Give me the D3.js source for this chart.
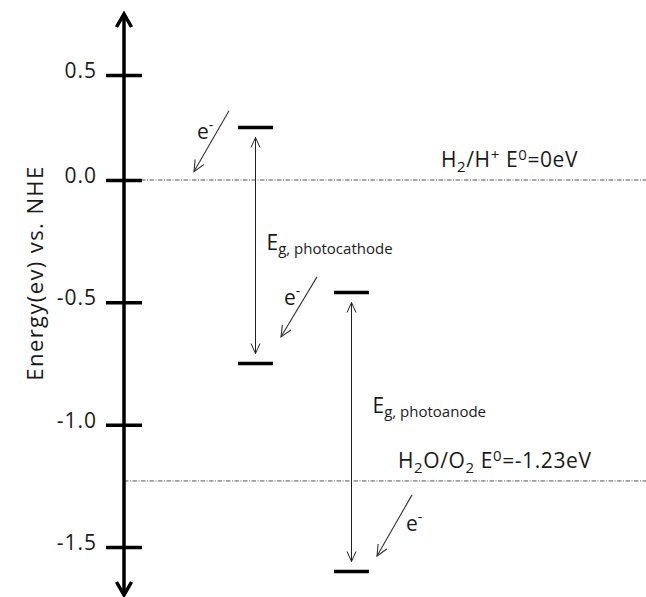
<!DOCTYPE html>
<html>
<head>
<meta charset="utf-8">
<script src="https://cdn.jsdelivr.net/npm/d3@7"></script>
<style>
  html, body { margin: 0; padding: 0; background: #fff; }
  svg { display: block; }
  text { font-family: "Open Sans", "Noto Sans", sans-serif; fill: #1a1a1a; }
</style>
</head>
<body>
<svg id="chart" width="646" height="597"></svg>
<script>
// Energy axis (eV vs. NHE)
const energyTicks = [0.5, 0.0, -0.5, -1.0, -1.5];
const tickLabels = ["0.5", "0.0", "-0.5", "-1.0", "-1.5"];

// Semiconductor electrodes and their band edges (eV)
const electrodes = ["photocathode", "photoanode"];
const conductionBand = [0.25, -0.46];
const valenceBand = [-0.75, -1.6];

// Redox reference potentials (eV)
const redoxCouples = ["H2/H+", "H2O/O2"];
const redoxPotentials = [0, -1.23];

// Electron transfer arrows: electrode, start and end energy (eV)
const electronBand = ["photocathode", "photoanode", "photoanode"];
const electronFrom = [0.33, -0.396, -1.287];
const electronTo = [0.04, -0.641, -1.537];

const svg = d3.select("#chart");
const W = 646, H = 597;

// Layout
const axisX = 124;
const y = d3.scaleLinear().domain([0.5, 0, -1.5]).range([75, 180, 547]);
const x = d3.scalePoint().domain(electrodes).range([255.5, 351.5]);
const barHalf = 17.5;

// Open chevron arrowhead
function chevron(g, tipX, tipY, dirX, dirY, len, half, width, color) {
  const n = Math.hypot(dirX, dirY);
  const ux = dirX / n, uy = dirY / n;
  const px = -uy, py = ux;
  const bx = tipX - ux * len, by = tipY - uy * len;
  g.append("path")
    .attr("d", `M${bx + px * half},${by + py * half}L${tipX},${tipY}L${bx - px * half},${by - py * half}`)
    .attr("fill", "none")
    .attr("stroke", color)
    .attr("stroke-width", width)
    .attr("stroke-linejoin", "miter")
    .attr("stroke-linecap", "butt");
}

// Redox reference lines (dash-dot)
svg.append("g").selectAll("line")
  .data(redoxPotentials)
  .join("line")
  .attr("x1", axisX).attr("x2", W)
  .attr("y1", d => y(d)).attr("y2", d => y(d))
  .attr("stroke", "#555")
  .attr("stroke-width", 1)
  .attr("stroke-dasharray", "4.5,1.5,1,1.5");

// Redox labels
const redoxLabelX = [441, 398];
const redoxText = svg.append("g").selectAll("text")
  .data(redoxPotentials)
  .join("text")
  .attr("x", (d, i) => redoxLabelX[i])
  .attr("y", d => y(d) - 13)
  .attr("font-size", 21)
  .attr("letter-spacing", 0.6);
// H2/H+ E0=0eV
{
  const t = d3.select(redoxText.nodes()[0]);
  t.append("tspan").text("H");
  t.append("tspan").attr("font-size", 15).attr("dy", 5).text("2");
  t.append("tspan").attr("dy", -5).text("/H");
  t.append("tspan").attr("font-size", 15).attr("dy", -7).text("+");
  t.append("tspan").attr("dy", 7).text(" E");
  t.append("tspan").attr("font-size", 15).attr("dy", -7).text("0");
  t.append("tspan").attr("dy", 7).text("=" + redoxPotentials[0] + "eV");
}
// H2O/O2 E0=-1.23eV
{
  const t = d3.select(redoxText.nodes()[1]);
  t.append("tspan").text("H");
  t.append("tspan").attr("font-size", 15).attr("dy", 5).text("2");
  t.append("tspan").attr("dy", -5).text("O/O");
  t.append("tspan").attr("font-size", 15).attr("dy", 5).text("2");
  t.append("tspan").attr("dy", -5).text(" E");
  t.append("tspan").attr("font-size", 15).attr("dy", -7).text("0");
  t.append("tspan").attr("dy", 7).text("=" + redoxPotentials[1] + "eV");
}

// Tick marks and labels (ticks cross the axis line)
const axis = d3.axisLeft(y)
  .tickValues(energyTicks)
  .tickFormat((d, i) => tickLabels[i])
  .tickSizeInner(36)
  .tickSizeOuter(0)
  .tickPadding(9);
const axisG = svg.append("g")
  .attr("transform", `translate(${axisX + 18},0)`)
  .call(axis);
axisG.select(".domain").remove();
axisG.selectAll(".tick line").attr("stroke", "#000").attr("stroke-width", 3.5);
axisG.selectAll(".tick text")
  .attr("font-size", 21)
  .attr("letter-spacing", 1)
  .attr("font-family", "'Open Sans', sans-serif")
  .attr("fill", "#1a1a1a")
  .attr("dy", "0.12em");

// Main vertical axis with arrowheads at both ends
const axisTop = 14, axisBottom = 595;
svg.append("line")
  .attr("x1", axisX).attr("x2", axisX)
  .attr("y1", axisTop + 1).attr("y2", axisBottom - 1)
  .attr("stroke", "#000").attr("stroke-width", 3.5);
chevron(svg, axisX, axisTop, 0, -1, 13, 7.5, 3.5, "#000");
chevron(svg, axisX, axisBottom, 0, 1, 13, 7.5, 3.5, "#000");

// Axis title
svg.append("text")
  .attr("transform", `translate(43,273) rotate(-90)`)
  .attr("text-anchor", "middle")
  .attr("font-size", 22)
  .attr("letter-spacing", 1.4)
  .text("Energy(ev) vs. NHE");

// Band edges and band-gap arrows
const bands = svg.append("g");
electrodes.forEach((e, i) => {
  [conductionBand[i], valenceBand[i]].forEach(v => {
    bands.append("line")
      .attr("x1", x(e) - barHalf).attr("x2", x(e) + barHalf)
      .attr("y1", y(v)).attr("y2", y(v))
      .attr("stroke", "#000").attr("stroke-width", 3.5);
  });
  const top = y(conductionBand[i]) + 10, bot = y(valenceBand[i]) - 10;
  bands.append("line")
    .attr("x1", x(e)).attr("x2", x(e))
    .attr("y1", top).attr("y2", bot)
    .attr("stroke", "#222").attr("stroke-width", 1);
  chevron(bands, x(e), top, 0, -1, 10, 4.5, 1, "#222");
  chevron(bands, x(e), bot, 0, 1, 10, 4.5, 1, "#222");
});

// Band gap labels
const gapLabelPos = [{ dx: 11, y: 250 }, { dx: 21, y: 413 }];
electrodes.forEach((e, i) => {
  const t = svg.append("text")
    .attr("x", x(e) + gapLabelPos[i].dx)
    .attr("y", gapLabelPos[i].y)
    .attr("font-size", 21);
  t.append("tspan").text("E");
  t.append("tspan").attr("font-size", 15).attr("dy", 4).text("g, " + e);
});

// Electron transfer arrows
const electronDx = [[-26.5, -61.5], [-34.5, -70.5], [60.5, 25.5]];
const electronLabel = [[-32, 28], [-33, 28], [-6, 36]];
const eG = svg.append("g");
electronBand.forEach((b, i) => {
  const x1 = x(b) + electronDx[i][0], y1 = y(electronFrom[i]);
  const x2 = x(b) + electronDx[i][1], y2 = y(electronTo[i]);
  eG.append("line")
    .attr("x1", x1).attr("y1", y1).attr("x2", x2).attr("y2", y2)
    .attr("stroke", "#333").attr("stroke-width", 1.1);
  chevron(eG, x2, y2, x2 - x1, y2 - y1, 11, 5, 1.1, "#333");
  const t = eG.append("text")
    .attr("x", x1 + electronLabel[i][0])
    .attr("y", y1 + electronLabel[i][1])
    .attr("font-size", 21);
  t.append("tspan").text("e");
  t.append("tspan").attr("font-size", 14).attr("dy", -9).text("-");
});
</script>
</body>
</html>
